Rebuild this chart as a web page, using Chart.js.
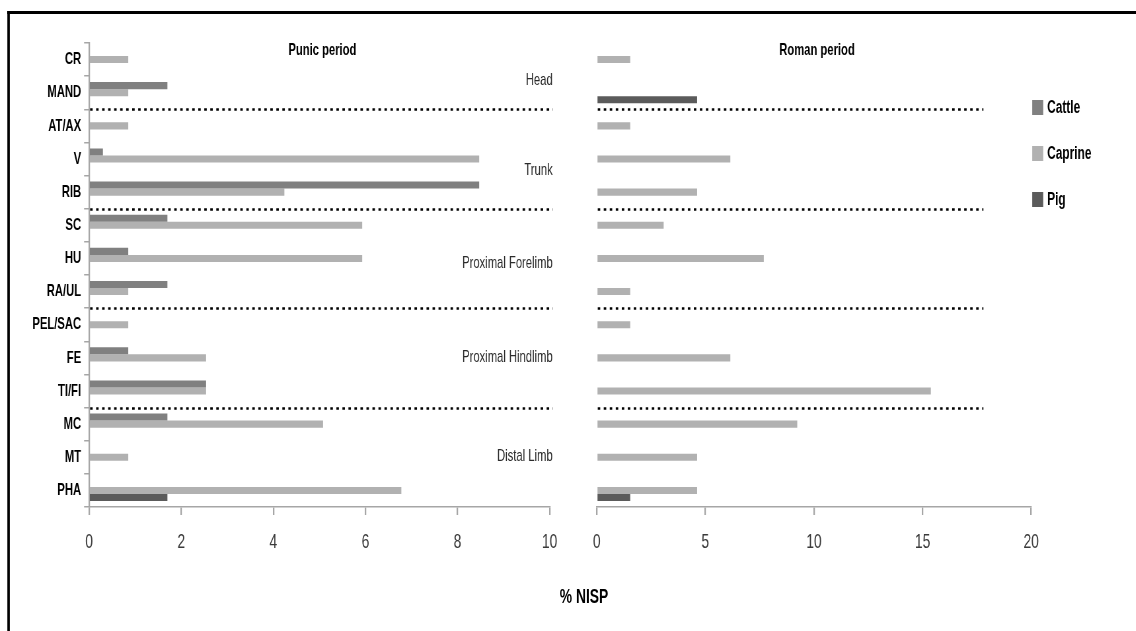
<!DOCTYPE html>
<html>
<head>
<meta charset="utf-8">
<script src="https://cdn.jsdelivr.net/npm/chart.js@4.4.1/dist/chart.umd.min.js"></script>
<style>
  html, body { margin: 0; padding: 0; background: #fff; overflow: hidden; }
  #outer { position: relative; width: 1136px; height: 631px; overflow: hidden; }
  #page { position: absolute; left: 0; top: 0; height: 631px; transform-origin: 0 0; }
  #frame { position: absolute; top: 11px; height: 640px; border-style: solid; border-color: #000;
           border-width: 3px 0 0 4.5px; }
  .panel { position: absolute; top: 0; height: 631px; }
  #nisp { position: absolute; top: 584px; text-align: center;
          font: bold 21px 'Liberation Sans', Arial, sans-serif; color: #000; }
</style>
</head>
<body>
<div id="outer">
<div id="page">
  <div id="frame"></div>
  <div id="left" class="panel"><canvas id="punic"></canvas></div>
  <div id="right" class="panel"><canvas id="roman"></canvas></div>
  <div id="nisp">% NISP</div>
</div>
</div>
<script>
// skeletal elements
const categories = ['CR', 'MAND', 'AT/AX', 'V', 'RIB', 'SC', 'HU', 'RA/UL', 'PEL/SAC', 'FE', 'TI/FI', 'MC', 'MT', 'PHA'];
const taxa = ['Cattle', 'Caprine', 'Pig'];

// Punic period, % NISP
const punicCattle  = [null, 1.7, null, 0.3, 8.47, 1.7, 0.85, 1.7, null, 0.85, 2.54, 1.7, null, null];
const punicCaprine = [0.85, 0.85, 0.85, 8.47, 4.24, 5.93, 5.93, 0.85, 0.85, 2.54, 2.54, 5.08, 0.85, 6.78];
const punicPig     = [null, null, null, null, null, null, null, null, null, null, null, null, null, 1.7];

// Roman period, % NISP
const romanCattle  = [null, null, null, null, null, null, null, null, null, null, null, null, null, null];
const romanCaprine = [1.54, null, 1.54, 6.15, 4.62, 3.08, 7.69, 1.54, 1.54, 6.15, 15.38, 9.23, 4.62, 4.62];
const romanPig     = [null, 4.62, null, null, null, null, null, null, null, null, null, null, null, 1.54];

const punicTicks = [0, 2, 4, 6, 8, 10];
const romanTicks = [0, 5, 10, 15, 20];

// body regions
const regions = ['Head', 'Trunk', 'Proximal Forelimb', 'Proximal Hindlimb', 'Distal Limb'];
const regionBreaks = [2, 5, 8, 11]; // first category of the next region

const colors = ['#808080', '#b1b1b1', '#5b5b5b'];
const fam = "'Liberation Sans', Arial, sans-serif";
Chart.defaults.font.family = fam;
Chart.defaults.animation = false;

// the original figure is squeezed sideways; draw wide, then squash
const S = 0.66;
const page = document.getElementById('page');
page.style.width = (1136 / S) + 'px';
page.style.transform = 'scaleX(' + S + ')';
function place(id, x, w) {
  const el = document.getElementById(id);
  el.style.left = (x / S) + 'px';
  el.style.width = (w / S) + 'px';
}
place('frame', 7, 1200);
place('left', 0, 580);
place('right', 560, 576);
place('nisp', 534, 100);

function makeDatasets(a, b, c) {
  return [a, b, c].map((d, i) => ({
    label: taxa[i],
    data: d,
    backgroundColor: colors[i],
    borderWidth: 0,
    categoryPercentage: 0.64,
    barPercentage: 1.0
  }));
}

// dotted separators, panel title, region labels, legend
function decorPlugin(title, dotEnd, showRegions, showLegend) {
  return {
    id: 'decor',
    afterDatasetsDraw(chart) {
      const ctx = chart.ctx, x = chart.scales.x, y = chart.scales.y, a = chart.chartArea;
      const band = y.getPixelForValue(1) - y.getPixelForValue(0);
      ctx.save();
      ctx.strokeStyle = '#000';
      ctx.lineWidth = 2.5;
      ctx.setLineDash([2.5 / S, 3.5 / S]);
      regionBreaks.forEach(i => {
        const py = Math.round(y.getPixelForValue(i) - band / 2) + 0.5;
        ctx.beginPath();
        ctx.moveTo(a.left + 1 / S, py);
        ctx.lineTo(x.getPixelForValue(dotEnd), py);
        ctx.stroke();
      });
      ctx.setLineDash([]);

      ctx.fillStyle = '#000';
      ctx.font = 'bold 17px ' + fam;
      ctx.textAlign = 'center';
      ctx.textBaseline = 'middle';
      ctx.fillText(title, (a.left + a.right) / 2 + 3 / S, 50);

      if (showRegions) {
        const at = [0.62, 3.33, 6.14, 8.97, 11.96];
        ctx.fillStyle = '#2b2b2b';
        ctx.font = '17px ' + fam;
        ctx.textAlign = 'right';
        regions.forEach((r, i) => ctx.fillText(r, a.right + 3 / S, y.getPixelForValue(at[i])));
      }

      if (showLegend) {
        ctx.font = 'bold 18px ' + fam;
        ctx.textAlign = 'left';
        chart.data.datasets.forEach((ds, i) => {
          const cy = 107.5 + i * 46;
          ctx.fillStyle = ds.backgroundColor;
          ctx.fillRect(a.right + 1 / S, cy - 7.5, 11 / S, 15);
          ctx.fillStyle = '#000';
          ctx.fillText(ds.label, a.right + 16 / S, cy + 1);
        });
      }
      ctx.restore();
    }
  };
}

function xAxis(max, ticks) {
  return {
    min: 0, max: max,
    afterBuildTicks: s => { s.ticks = ticks.map(v => ({ value: v })); },
    afterFit: s => { s.height = 50; },
    border: { color: '#a6a6a6', width: 1.5 },
    grid: { drawOnChartArea: false, drawTicks: true, tickLength: 8, color: '#a6a6a6', lineWidth: 1.5 / S },
    ticks: { color: '#3a3a3a', font: { size: 21 }, padding: 15, maxRotation: 0 }
  };
}

new Chart(document.getElementById('punic'), {
  type: 'bar',
  data: { labels: categories, datasets: makeDatasets(punicCattle, punicCaprine, punicPig) },
  options: {
    indexAxis: 'y',
    responsive: true,
    maintainAspectRatio: false,
    layout: { padding: { top: 43, left: 0, right: 31 / S, bottom: 74 } },
    plugins: { legend: { display: false }, tooltip: { enabled: false } },
    scales: {
      x: xAxis(10, punicTicks),
      y: {
        afterFit: s => { s.width = 89 / S; },
        border: { color: '#a6a6a6', width: 1.5 / S },
        grid: { drawOnChartArea: false, tickLength: 5 / S, color: '#a6a6a6', lineWidth: 1.5 },
        ticks: { color: '#000', font: { size: 17, weight: 'bold' }, padding: 3 / S, autoSkip: false }
      }
    }
  },
  plugins: [decorPlugin('Punic period', 10.07, true, false)]
});

new Chart(document.getElementById('roman'), {
  type: 'bar',
  data: { labels: categories, datasets: makeDatasets(romanCattle, romanCaprine, romanPig) },
  options: {
    indexAxis: 'y',
    responsive: true,
    maintainAspectRatio: false,
    layout: { padding: { top: 43, left: 37 / S, right: 105 / S, bottom: 74 } },
    plugins: { legend: { display: false }, tooltip: { enabled: false } },
    scales: {
      x: xAxis(20, romanTicks),
      y: { display: false }
    }
  },
  plugins: [decorPlugin('Roman period', 17.8, false, true)]
});
</script>
</body>
</html>
